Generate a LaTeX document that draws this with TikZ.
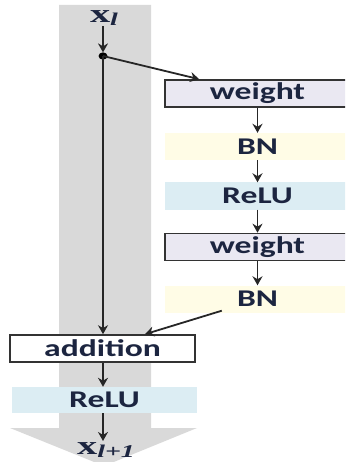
\documentclass[tikz,border=0pt]{standalone}
\usepackage{fontspec}
\setmainfont{Carlito}
\newfontfamily\tmsfont{Liberation Serif}
\usetikzlibrary{arrows.meta,calc}
\definecolor{bandgray}{HTML}{D9D9D9}
\definecolor{weightfill}{HTML}{EAE8F2}
\definecolor{bnfill}{HTML}{FFFCE6}
\definecolor{relufill}{HTML}{DCEDF3}
\definecolor{inktext}{HTML}{1C2540}
\definecolor{edge}{HTML}{333333}
\newcommand{\wide}[1]{\scalebox{1.4}[1]{#1}}
\newcommand{\vecx}[1]{\scalebox{1.55}[1]{{\tmsfont\bfseries x}\raisebox{-0.3ex}{\tmsfont\bfseries\itshape\fontsize{18}{19}\selectfont #1}}}
\tikzset{
  layer/.style={minimum width=185pt, minimum height=27pt, inner sep=0pt,
    text=inktext, font=\fontsize{24}{26}\selectfont\bfseries},
  weightbox/.style={layer, fill=weightfill, draw=edge, line width=1.6pt},
  bnbox/.style={layer, fill=bnfill},
  relubox/.style={layer, fill=relufill},
  addbox/.style={layer, fill=white, draw=edge, line width=1.6pt},
  flow/.style={draw=black!85, line width=1.8pt, -{Stealth[length=9pt,width=10pt]}},
  veclabel/.style={inner sep=0pt, text=inktext, font=\fontsize{26}{28}\selectfont}
}
\begin{document}
\begin{tikzpicture}[x=1pt,y=-1pt]
  \useasboundingbox (0,0) rectangle (345,462);
  \begin{scope}
    \clip (0,0) rectangle (345,462);
    % wide grey band carrying the identity path, ending in a broad arrowhead
    \fill[bandgray] (59,5) -- (151,5) -- (151,428) -- (197,428) -- (104,466)
      -- (10,428) -- (59,428) -- cycle;

    % residual branch
    \node[weightbox] (w1) at (257.5,93.5) {\wide{weight}};
    \node[bnbox] (bn1) at (257.5,146.5) {\wide{BN}};
    \node[relubox] (r1) at (257.5,196) {\wide{ReLU}};
    \node[weightbox] (w2) at (257.5,247) {\wide{weight}};
    \node[bnbox] (bn2) at (257.5,299) {\wide{BN}};

    % main path
    \node[veclabel] (xin) at (104,18) {\vecx{l}};
    \fill[black] (103,56) ellipse (4.5pt and 3.6pt);
    \coordinate (split) at (103,56);
    \node[addbox] (add) at (102.5,348.5) {\wide{addition}};
    \node[relubox, minimum height=26pt] (r2) at (104.5,400) {\wide{ReLU}};
    \node[veclabel] (xout) at (106,450) {\vecx{l+1}};

    % connectors
    \draw[flow] (xin.south -| split) -- ($(split)+(0,-3.6)$);
    \draw[flow] (split) -- ($(w1.north west)+(35,0)$);
    \draw[flow] (w1) -- (bn1);
    \draw[flow] (bn1) -- (r1);
    \draw[flow] (r1) -- (w2);
    \draw[flow] (w2) -- (bn2);
    \draw[flow] ($(bn2.south west)+(57,-2)$) -- ($(add.north)+(42.5,0)$);
    \draw[flow] (split) -- (split |- add.north);
    \draw[flow] (add.south -| split) -- (r2.north -| split);
    \draw[flow] (r2.south -| split) -- ($(xout.north -| split)+(0,-1)$);
  \end{scope}
\end{tikzpicture}
\end{document}
